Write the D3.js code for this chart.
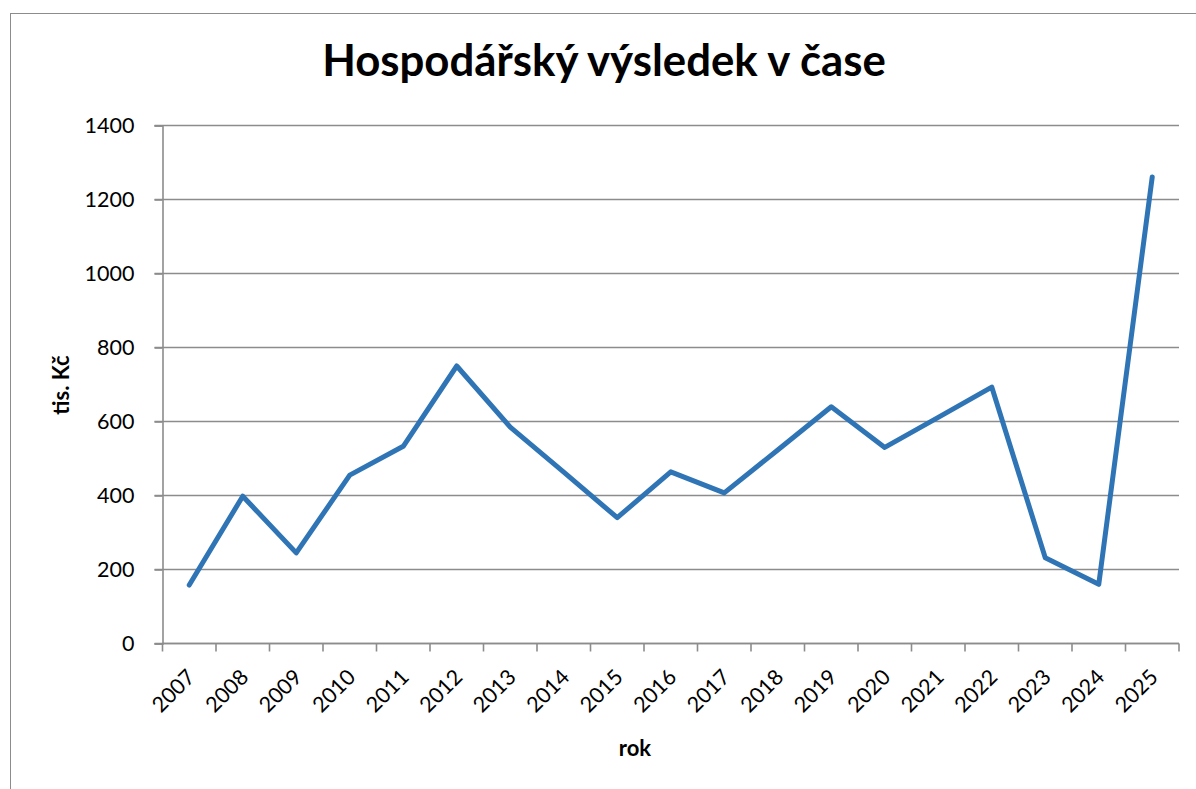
<!DOCTYPE html>
<html>
<head>
<meta charset="utf-8">
<script src="https://cdn.jsdelivr.net/npm/d3@7"></script>
<style>
  body { margin: 0; background: #fff; }
  text { font-family: Lato, "Open Sans", sans-serif; fill: #000; }
</style>
</head>
<body>
<svg width="1196" height="789"></svg>
<script>
// data
var years = ["2007","2008","2009","2010","2011","2012","2013","2014","2015","2016",
             "2017","2018","2019","2020","2021","2022","2023","2024","2025"];
var values = [158, 398, 245, 455, 533, 750, 585, 463, 340, 464,
              407, 523, 640, 530, 611, 693, 232, 160, 1261];
var yTicks = [0, 200, 400, 600, 800, 1000, 1200, 1400];

var title = "Hospodářský výsledek v čase";
var yTitle = "tis. Kč";
var xTitle = "rok";

var margin = {top: 125.5, left: 162.5, right: 1179, bottom: 643.5};
var svg = d3.select("svg");
var gridColor = "#8c8c8c";

// chart frame
svg.append("rect")
  .attr("x", 10.5).attr("y", 13.5)
  .attr("width", 1200).attr("height", 800)
  .attr("fill", "none").attr("stroke", gridColor).attr("stroke-width", 1);

//scales
var x = d3.scaleBand().domain(years).range([margin.left, margin.right]);
var y = d3.scaleLinear().domain([0, 1400]).range([margin.bottom, margin.top]);

// horizontal gridlines
svg.append("g")
  .selectAll("line")
  .data(yTicks)
  .enter().append("line")
    .attr("x1", margin.left - 8).attr("x2", margin.right)
    .attr("y1", function(d){ return y(d); })
    .attr("y2", function(d){ return y(d); })
    .attr("stroke", gridColor).attr("stroke-width", 1.6);

// y axis
var yAxis = svg.append("g")
  .attr("transform", "translate(" + margin.left + ",0)")
  .call(d3.axisLeft(y).tickValues(yTicks).tickSize(8).tickPadding(20).tickFormat(d3.format("d")));
yAxis.select(".domain").attr("stroke", gridColor).attr("stroke-width", 1.6);
yAxis.selectAll(".tick line").attr("stroke", gridColor).attr("stroke-width", 1.6);
yAxis.selectAll(".tick text").attr("font-size", 21.5).attr("font-family", "Lato").attr("fill", "#000");

// x axis (ticks on category boundaries)
var bounds = years.map(function(d){ return x(d); }).concat([margin.right]);
var xAxis = svg.append("g");
xAxis.append("line")
  .attr("x1", margin.left).attr("x2", margin.right)
  .attr("y1", margin.bottom).attr("y2", margin.bottom)
  .attr("stroke", gridColor).attr("stroke-width", 1.6);
xAxis.selectAll("line.tk")
  .data(bounds)
  .enter().append("line")
    .attr("class", "tk")
    .attr("x1", function(d){ return d; }).attr("x2", function(d){ return d; })
    .attr("y1", margin.bottom).attr("y2", margin.bottom + 8)
    .attr("stroke", gridColor).attr("stroke-width", 1.6);
xAxis.selectAll("text")
  .data(years)
  .enter().append("text")
    .attr("transform", function(d){
      return "translate(" + (x(d) + x.bandwidth()/2 + 7) + "," + (margin.bottom + 35) + ") rotate(-45)";
    })
    .attr("text-anchor", "end")
    .attr("font-size", 21.5)
    .text(function(d){ return d; });

// line
var line = d3.line()
  .x(function(d, i){ return x(years[i]) + x.bandwidth()/2; })
  .y(function(d){ return y(d); });
svg.append("path")
  .datum(values)
  .attr("d", line)
  .attr("fill", "none")
  .attr("stroke", "#2f75b6")
  .attr("stroke-width", 5)
  .attr("stroke-linejoin", "round")
  .attr("stroke-linecap", "round");

// titles
var t = svg.append("text")
  .attr("x", 604).attr("y", 76)
  .attr("text-anchor", "middle")
  .attr("font-size", 38).attr("font-weight", "bold")
  .text(title);
var tl = t.node().getComputedTextLength();
t.attr("font-size", 38 * 564 / tl);

svg.append("text")
  .attr("transform", "translate(69,385) rotate(-90)")
  .attr("text-anchor", "middle")
  .attr("font-size", 22).attr("font-weight", "bold")
  .text(yTitle);

svg.append("text")
  .attr("x", 635).attr("y", 756)
  .attr("text-anchor", "middle")
  .attr("font-size", 22).attr("font-weight", "bold")
  .text(xTitle);
</script>
</body>
</html>
